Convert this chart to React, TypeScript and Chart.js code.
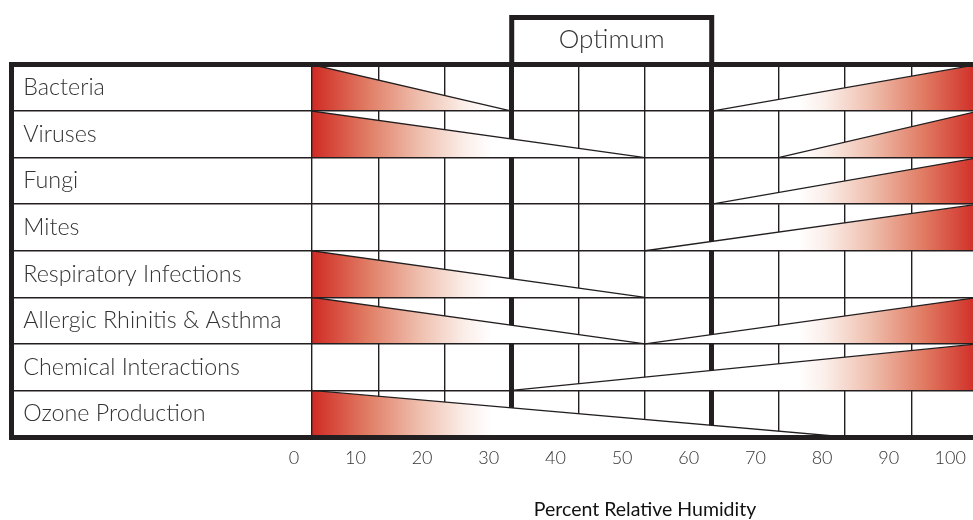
import React, { useEffect, useRef } from 'react';
import { Chart, registerables } from 'chart.js';

Chart.register(...registerables);

// ---- data ----
const CATEGORIES = [
  'Bacteria',
  'Viruses',
  'Fungi',
  'Mites',
  'Respiratory Infections',
  'Allergic Rhinitis & Asthma',
  'Chemical Interactions',
  'Ozone Production',
];
// humidity where the risk wedge coming from the dry side (0) ends; null = no wedge
const DRY_END: (number | null)[] = [30, 50, null, null, 50, 50, null, 80];
// humidity where the risk wedge growing towards the humid side (100) starts; null = no wedge
const WET_START: (number | null)[] = [60, 70, 60, 50, null, 50, 30, null];
const X_TICKS = [0, 10, 20, 30, 40, 50, 60, 70, 80, 90, 100];
const OPTIMUM = [30, 60];
const OPTIMUM_LABEL = 'Optimum';
const X_TITLE = 'Percent Relative Humidity';
const X_TITLE_AT = 50;

// ---- layout / style constants ----
const X_MIN = -45.03; // label column left of the grid
const X_MAX = 99.19; // right edge of the picture cuts the table just short of 100
const OPT_TOP = -1.01; // top edge of the "Optimum" box, in row units above the table
const FADE = 27; // length of the red→white fade
const INK = '#231f20';
const TEXT = '#333333';
const FONT = 'Lato, "Open Sans", "DejaVu Sans", sans-serif';
const ROW_HALF_PX = 23.28;

function wedgeFill(side: 'dry' | 'wet') {
  return (ctx: any) => {
    const chart = ctx.chart;
    const xs = chart.scales && chart.scales.x;
    if (!chart.chartArea || !xs) return 'rgba(0,0,0,0)';
    const a = xs.getPixelForValue(side === 'dry' ? 0 : 100);
    const b = xs.getPixelForValue(side === 'dry' ? FADE : 100 - FADE);
    const g = chart.ctx.createLinearGradient(a, 0, b, 0);
    g.addColorStop(0, '#d02a24');
    g.addColorStop(0.3, '#e07a62');
    g.addColorStop(0.6, '#efbfae');
    g.addColorStop(0.85, '#fbeee9');
    g.addColorStop(1, '#ffffff');
    return g;
  };
}

function noSidePadding(s: any) {
  s.paddingLeft = 0;
  s.paddingRight = 0;
}

export default function App() {
  const ref = useRef<HTMLCanvasElement | null>(null);

  useEffect(() => {
    if (!ref.current) return;
    const n = CATEGORIES.length;
    const datasets: any[] = [];
    CATEGORIES.forEach((cat, i) => {
      const d = DRY_END[i];
      if (d !== null) {
        datasets.push({
          label: cat + ' (dry)',
          data: [
            { x: 0, y: i + 1 },
            { x: 0, y: i },
            { x: d, y: i + 1 },
          ],
          fill: { value: i + 1 },
          backgroundColor: wedgeFill('dry'),
          borderColor: INK,
          borderWidth: 1.3,
          pointRadius: 0,
          tension: 0,
        });
      }
      const w = WET_START[i];
      if (w !== null) {
        datasets.push({
          label: cat + ' (humid)',
          data: [
            { x: w, y: i + 1 },
            { x: 100, y: i },
          ],
          fill: { value: i + 1 },
          backgroundColor: wedgeFill('wet'),
          borderColor: INK,
          borderWidth: 1.3,
          pointRadius: 0,
          tension: 0,
        });
      }
    });
    datasets.push({
      label: OPTIMUM_LABEL,
      data: [
        { x: OPTIMUM[0], y: 0 },
        { x: OPTIMUM[0], y: OPT_TOP },
        { x: OPTIMUM[1], y: OPT_TOP },
        { x: OPTIMUM[1], y: 0 },
      ],
      borderColor: INK,
      borderWidth: 5,
      borderJoinStyle: 'miter',
      fill: false,
      clip: false,
      pointRadius: 0,
    });

    const chart = new Chart(ref.current, {
      type: 'line',
      data: { datasets },
      options: {
        animation: false,
        responsive: true,
        maintainAspectRatio: false,
        events: [],
        layout: { padding: { left: 11.5, right: 0, top: 0, bottom: 0 } },
        plugins: { legend: { display: false }, tooltip: { enabled: false } },
        scales: {
          x: {
            type: 'linear',
            min: X_MIN,
            max: X_MAX,
            afterBuildTicks: (s: any) => {
              s.ticks = X_TICKS.map((v) => ({ value: v }));
            },
            afterFit: (s: any) => {
              s.height = 48;
              noSidePadding(s);
            },
            ticks: {
              autoSkip: false,
              maxRotation: 0,
              align: 'end',
              labelOffset: -12.5,
              padding: 10,
              color: TEXT,
              font: { family: FONT, size: 18, weight: '300' },
              callback: (v: any) => String(v),
            },
            grid: {
              color: INK,
              lineWidth: (c: any) => (c.tick && OPTIMUM.includes(c.tick.value) ? 5 : 1.4),
              drawTicks: false,
            },
            border: { display: false },
          },
          x3: {
            type: 'linear',
            position: 'bottom',
            weight: 1,
            min: X_MIN,
            max: X_MAX,
            afterBuildTicks: (s: any) => {
              s.ticks = [{ value: X_TITLE_AT }];
            },
            afterFit: (s: any) => {
              s.height = 35;
              noSidePadding(s);
            },
            ticks: {
              autoSkip: false,
              maxRotation: 0,
              padding: 13,
              color: '#111111',
              font: { family: FONT, size: 19.5 },
              callback: () => X_TITLE,
            },
            grid: { display: false, drawTicks: false },
            border: { display: false },
          },
          x2: {
            type: 'linear',
            position: 'top',
            min: X_MIN,
            max: X_MAX,
            afterBuildTicks: (s: any) => {
              s.ticks = [{ value: (OPTIMUM[0] + OPTIMUM[1]) / 2 }];
            },
            afterFit: (s: any) => {
              s.height = 64.5;
              noSidePadding(s);
            },
            ticks: {
              autoSkip: false,
              maxRotation: 0,
              padding: 9,
              color: TEXT,
              font: { family: FONT, size: 26, weight: '300' },
              callback: () => OPTIMUM_LABEL,
            },
            grid: { display: false, drawTicks: false },
            border: { display: false },
          },
          y: {
            type: 'linear',
            min: 0,
            max: n,
            reverse: true,
            afterBuildTicks: (s: any) => {
              const t = [];
              for (let i = 0; i <= n; i++) t.push({ value: i });
              s.ticks = t;
            },
            afterFit: (s: any) => {
              s.width = 0;
            },
            ticks: {
              mirror: true,
              crossAlign: 'near',
              padding: 11.8,
              labelOffset: ROW_HALF_PX,
              autoSkip: false,
              color: TEXT,
              font: { family: FONT, size: 23.3, weight: '300' },
              callback: (v: any) => (CATEGORIES[v] !== undefined ? CATEGORIES[v] : ''),
            },
            grid: {
              z: 1,
              color: INK,
              lineWidth: (c: any) => (c.tick && (c.tick.value === 0 || c.tick.value === n) ? 5 : 1.4),
              drawTicks: false,
            },
            border: { z: 1, color: INK, width: 5 },
          },
        },
      } as any,
    });
    return () => chart.destroy();
  }, []);

  return (
    <div style={{ position: 'fixed', left: 0, top: 0, width: 973, height: 520, background: '#ffffff' }}>
      <canvas ref={ref} />
    </div>
  );
}
